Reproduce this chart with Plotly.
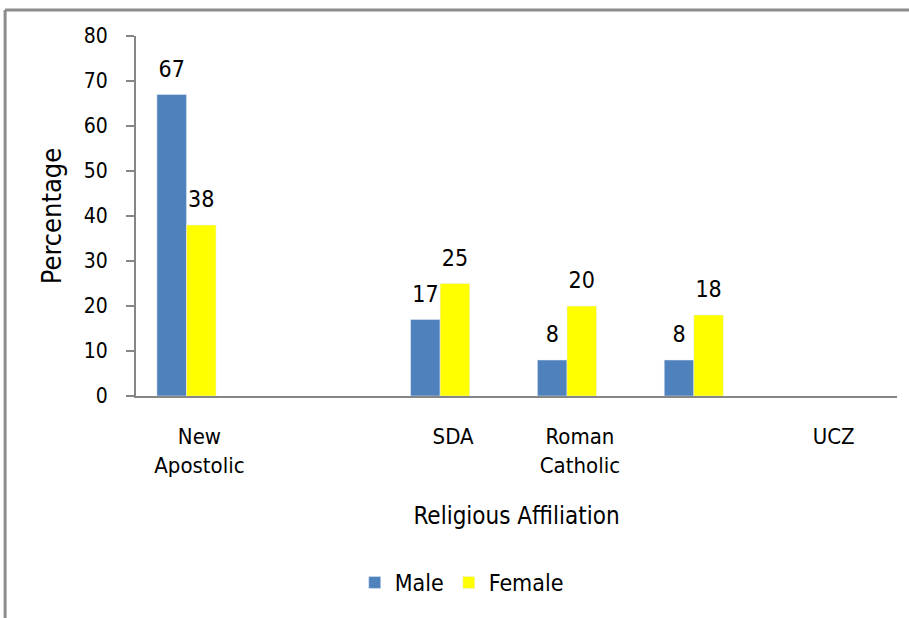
import plotly.graph_objects as go

categories = ["New<br>Apostolic", "", "SDA", "Roman<br>Catholic", "", "UCZ"]
male = [67, None, 17, 8, 8, None]
female = [38, None, 25, 20, 18, None]
y_ticks = [0, 10, 20, 30, 40, 50, 60, 70, 80]

FONT = "DejaVu Sans Condensed, DejaVu Sans, sans-serif"
xs = list(range(len(categories)))

def labels(vals):
    return [("" if v is None else f"{v}") for v in vals]

LABEL_TPL = "<span style='font-size:23px'>%{text}</span><br> "

fig = go.Figure()
fig.add_trace(go.Bar(
    x=xs, y=male, name="Male", marker_color="#4F81BD",
    width=0.233, offset=-0.335,
    text=labels(male), texttemplate=LABEL_TPL,
    textposition="outside", cliponaxis=False,
    textfont=dict(size=10, color="#000000", family=FONT),
))
fig.add_trace(go.Bar(
    x=xs, y=female, name="Female", marker_color="#FFFF00",
    width=0.233, offset=-0.102,
    text=labels(female), texttemplate=LABEL_TPL,
    textposition="outside", cliponaxis=False,
    textfont=dict(size=10, color="#000000", family=FONT),
))

fig.update_layout(
    width=909, height=618,
    margin=dict(l=136, r=12, t=36, b=222),
    paper_bgcolor="white", plot_bgcolor="white",
    font=dict(family=FONT, size=22, color="#000000"),
    barmode="overlay",
    showlegend=True,
    legend=dict(orientation="h", x=0.428, xanchor="center", y=-0.518, yanchor="middle",
                font=dict(size=23, family=FONT), itemwidth=30, traceorder="normal"),
    shapes=[
        dict(type="line", xref="paper", yref="paper", x0=-0.172, x1=-0.172, y0=1.0725, y1=-0.63,
             line=dict(color="#8C8C8C", width=3)),
        dict(type="line", xref="paper", yref="paper", x0=-0.172, x1=1.02, y0=1.0725, y1=1.0725,
             line=dict(color="#8C8C8C", width=3)),
    ],
)
fig.update_xaxes(
    range=[-0.5, 5.5], tickvals=xs, ticktext=categories,
    showline=True, linecolor="#868686", linewidth=2, ticks="",
    showgrid=False, zeroline=False,
    tickfont=dict(size=22, family=FONT), ticklabelstandoff=20,
    title=dict(text="Religious Affiliation", font=dict(size=24, family=FONT), standoff=30),
)
fig.update_yaxes(
    range=[0, 80], tickvals=y_ticks,
    showline=True, linecolor="#868686", linewidth=2,
    ticks="outside", ticklen=8, tickcolor="#868686", tickwidth=2,
    showgrid=False, zeroline=False,
    tickfont=dict(size=21, family=FONT), ticklabelstandoff=14,
    title=dict(text="Percentage", font=dict(size=27, family=FONT), standoff=14),
)

fig.write_html(
    "out.html",
    config={"displayModeBar": False},
    post_script="document.body.style.margin='0';document.body.style.overflow='hidden';",
)
